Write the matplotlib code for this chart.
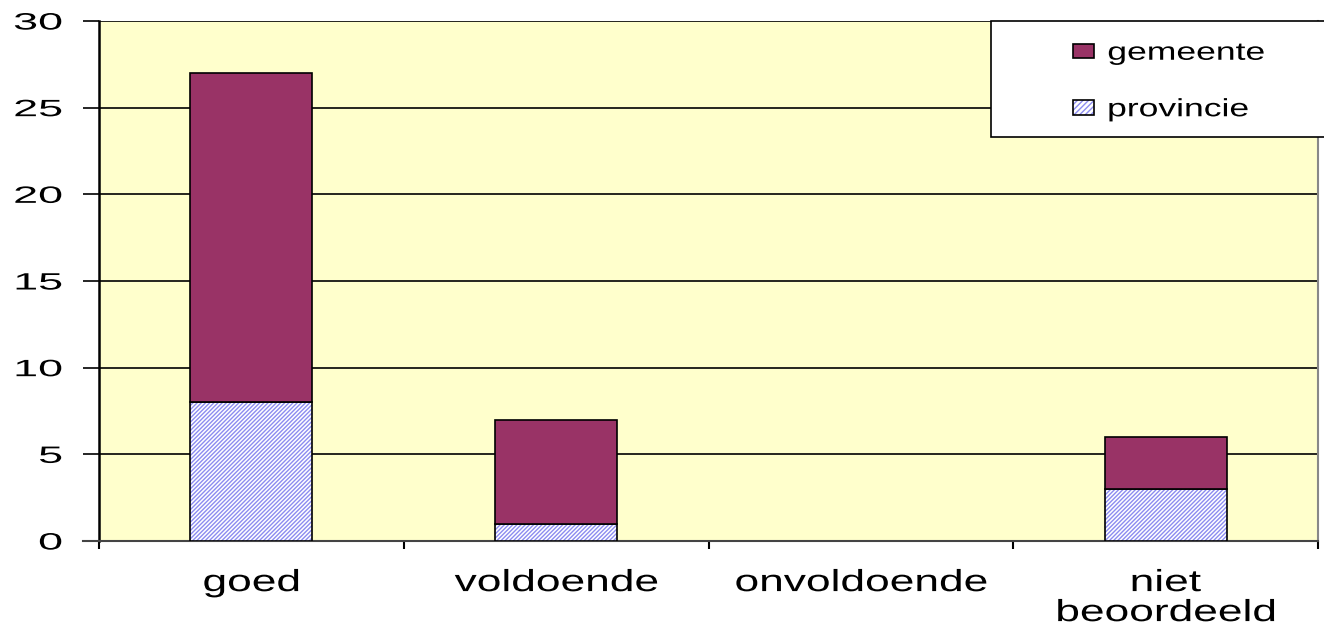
import matplotlib
matplotlib.use("Agg")
import matplotlib.pyplot as plt
from matplotlib.patches import Rectangle, Patch
from matplotlib.patheffects import AbstractPathEffect
from matplotlib.transforms import Affine2D
import numpy as np

categories = ["goed", "voldoende", "onvoldoende", "niet\nbeoordeeld"]
provincie = [8, 1, 0, 3]
gemeente = [19, 6, 0, 3]
yticks = [0, 5, 10, 15, 20, 25, 30]

plt.rcParams['font.family'] = ['Liberation Sans', 'DejaVu Sans']
plt.rcParams['hatch.linewidth'] = 1.0

HATCH_C = '#8C8CF0'
PLUM = '#993366'


class HStretch(AbstractPathEffect):
    """Widen glyphs horizontally (the reference text is horizontally stretched)."""
    def __init__(self, sx, align='center'):
        super().__init__()
        self.sx = sx
        self.align = align

    def draw_path(self, renderer, gc, tpath, affine, rgbFace=None):
        ext = tpath.get_extents(affine)
        if self.align == 'center':
            x0 = 0.5 * (ext.x0 + ext.x1)
        elif self.align == 'right':
            x0 = ext.x1
        else:
            x0 = ext.x0
        new = affine + Affine2D().translate(-x0, 0).scale(self.sx, 1).translate(x0, 0)
        renderer.draw_path(gc, tpath, new, rgbFace)


W, H = 1324, 627
fig = plt.figure(figsize=(W / 100, H / 100), dpi=100)
ax = fig.add_axes([99 / W, 1 - 541 / H, (1318 - 99) / W, (541 - 21) / H])
ax.set_facecolor('#FFFFCC')

x = np.arange(len(categories)) + 0.5
w = 0.4
lw_p = [1.2 if v > 0 else 0 for v in provincie]
lw_g = [1.2 if v > 0 else 0 for v in gemeente]

ax.bar(x, provincie, width=w, color='white', hatch='////////', edgecolor=HATCH_C,
       linewidth=0, zorder=3)
ax.bar(x, provincie, width=w, fill=False, edgecolor='black', linewidth=lw_p, zorder=4)
ax.bar(x, gemeente, width=w, bottom=provincie, color=PLUM, edgecolor='black',
       linewidth=lw_g, zorder=4)

ax.set_xlim(0, len(categories))
ax.set_ylim(0, 30)
ax.set_yticks(yticks)
ax.set_yticklabels([str(t) for t in yticks], fontsize=17)
ax.yaxis.grid(True, color='black', linewidth=1.2, zorder=1)
ax.set_axisbelow(True)
ax.tick_params(axis='y', length=11.5, width=1.2, direction='out', pad=15)

ax.set_xticks(x)
ax.set_xticklabels(categories, fontsize=22, linespacing=1.0)
ax.tick_params(axis='x', which='major', length=0, pad=19.5)
ax.set_xticks(np.arange(len(categories) + 1), minor=True)
ax.tick_params(axis='x', which='minor', length=6, width=1.5, direction='out')

for t in ax.get_yticklabels():
    t.set_path_effects([HStretch(1.9, 'right')])
for t in ax.get_xticklabels():
    t.set_path_effects([HStretch(1.45, 'center')])

ax.spines['top'].set_visible(False)
ax.spines['right'].set_color('#888888')
ax.spines['right'].set_linewidth(1.5)
ax.spines['left'].set_linewidth(1.8)
ax.spines['bottom'].set_color('#444444')
ax.spines['bottom'].set_linewidth(1.5)
# x-axis line continues a little to the left of the y axis
ax.plot([-0.052, 0], [0, 0], color='#444444', linewidth=1.5, clip_on=False,
        transform=ax.transData, zorder=5)

# legend box
fig.patches.append(Rectangle((991 / W, 1 - 137 / H), 400 / W, 116 / H,
                             transform=fig.transFigure, facecolor='white',
                             edgecolor='black', linewidth=1.2, zorder=5))
h_gem = Patch(facecolor=PLUM, edgecolor='black', linewidth=1.2)
h_prov = (Patch(facecolor='white', edgecolor=HATCH_C, hatch='//////', linewidth=0),
          Patch(fill=False, edgecolor='black', linewidth=1.2))
leg = fig.legend([h_gem, h_prov], ['gemeente', 'provincie'], loc='center left',
                 bbox_to_anchor=(1073 / W, 1 - 81 / H), frameon=False,
                 fontsize=18, handlelength=0.84, handleheight=0.52,
                 handletextpad=0.55, labelspacing=1.3, borderpad=0, borderaxespad=0)
leg.set_zorder(6)
for t in leg.get_texts():
    t.set_path_effects([HStretch(1.42, 'left')])

fig.savefig('out.png', dpi=100)
